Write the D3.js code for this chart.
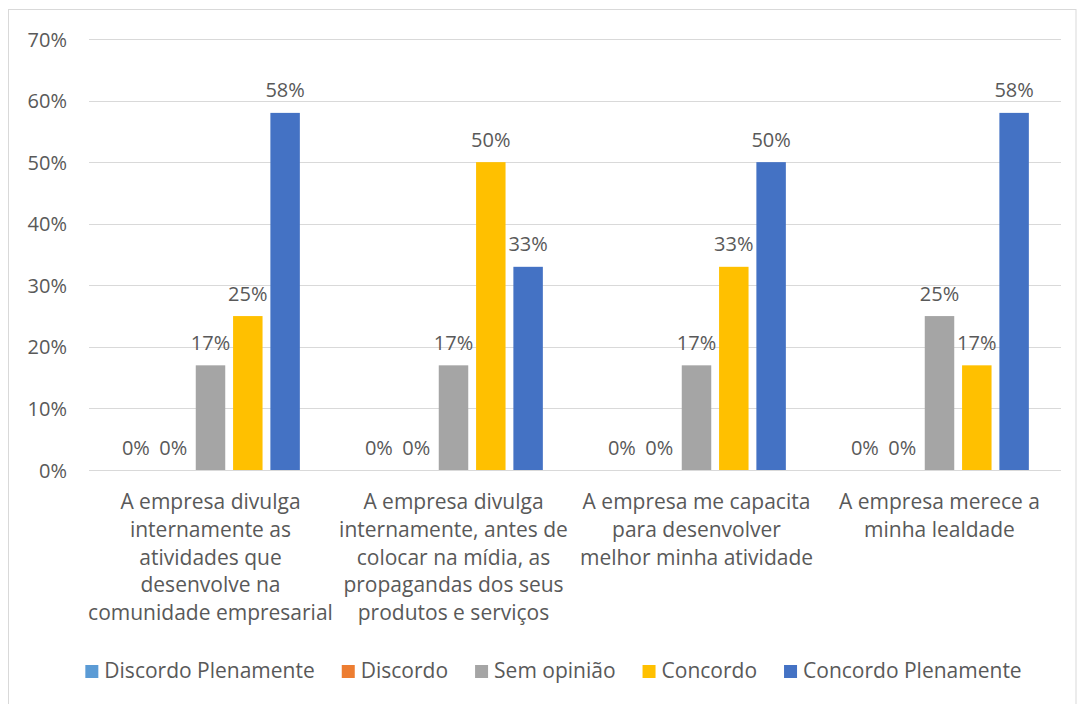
<!DOCTYPE html>
<html>
<head>
<meta charset="utf-8">
<script src="https://cdn.jsdelivr.net/npm/d3@7"></script>
<style>
  html, body { margin: 0; padding: 0; background: #fff; }
  svg { display: block; }
  text { font-family: "Open Sans", sans-serif; fill: #595959; }
</style>
</head>
<body>
<svg id="chart" width="1077" height="704"></svg>
<script>
// Survey answers per statement (percent of respondents)
const categories = [
  ["A empresa divulga", "internamente as", "atividades que", "desenvolve na", "comunidade empresarial"],
  ["A empresa divulga", "internamente, antes de", "colocar na mídia, as", "propagandas dos seus", "produtos e serviços"],
  ["A empresa me capacita", "para desenvolver", "melhor minha atividade"],
  ["A empresa merece a", "minha lealdade"]
];
const seriesNames = ["Discordo Plenamente", "Discordo", "Sem opinião", "Concordo", "Concordo Plenamente"];
const seriesColors = ["#5B9BD5", "#ED7D31", "#A5A5A5", "#FFC000", "#4472C4"];
const discordoPlenamente = [0, 0, 0, 0];
const discordo = [0, 0, 0, 0];
const semOpiniao = [17, 17, 17, 25];
const concordo = [25, 50, 33, 17];
const concordoPlenamente = [58, 33, 50, 58];
const seriesValues = [discordoPlenamente, discordo, semOpiniao, concordo, concordoPlenamente];
const yTicks = [0, 10, 20, 30, 40, 50, 60, 70];

const svg = d3.select("#chart");
const FS = 20;      // tick and value labels
const FS_CAT = 21;  // category and legend labels

// Chart frame
svg.append("rect")
  .attr("x", 8.5).attr("y", 9.5)
  .attr("width", 1067.5).attr("height", 700)
  .attr("fill", "none").attr("stroke", "#d9d9d9").attr("stroke-width", 1);

const plot = { left: 89, right: 1061, top: 39, bottom: 470 };

const y = d3.scaleLinear().domain([0, 70]).range([plot.bottom, plot.top]);
const catIdx = d3.range(categories.length);
const x0 = d3.scaleBand().domain(catIdx).range([plot.left, plot.right])
  .paddingInner(0.2646).paddingOuter(0.1323);
const x1 = d3.scaleBand().domain(d3.range(seriesNames.length))
  .range([0, x0.bandwidth()]).paddingInner(0.21).paddingOuter(0);

// Gridlines
svg.append("g").selectAll("line").data(yTicks).join("line")
  .attr("x1", plot.left).attr("x2", plot.right)
  .attr("y1", d => Math.round(y(d)) + 0.5).attr("y2", d => Math.round(y(d)) + 0.5)
  .attr("stroke", "#d9d9d9").attr("stroke-width", 1);

// Y axis labels
const yAxis = d3.axisLeft(y).tickValues(yTicks).tickFormat(d => d + "%").tickSize(0).tickPadding(0);
const ya = svg.append("g").attr("transform", `translate(67,0)`).call(yAxis);
ya.select(".domain").remove();
ya.selectAll("text").attr("font-size", FS).attr("font-family", "Open Sans, sans-serif").attr("fill", "#595959").attr("dy", "0.35em");

// Bars
const groups = svg.append("g").selectAll("g").data(catIdx).join("g")
  .attr("transform", c => `translate(${x0(c)},0)`);

groups.selectAll("rect").data(c => seriesValues.map((vals, s) => ({ s, v: vals[c] })))
  .join("rect")
  .attr("x", d => x1(d.s)).attr("width", x1.bandwidth())
  .attr("y", d => y(d.v)).attr("height", d => y(0) - y(d.v))
  .attr("fill", d => seriesColors[d.s]);

// Value labels
groups.selectAll("text").data(c => seriesValues.map((vals, s) => ({ s, v: vals[c] })))
  .join("text")
  .attr("x", d => x1(d.s) + x1.bandwidth() / 2)
  .attr("y", d => y(d.v) - 15.5)
  .attr("text-anchor", "middle").attr("font-size", FS)
  .text(d => d.v + "%");

// Category labels
const cl = svg.append("g").selectAll("text").data(catIdx).join("text")
  .attr("text-anchor", "middle").attr("font-size", FS_CAT)
  .attr("x", c => x0(c) + x0.bandwidth() / 2).attr("y", 509);
cl.selectAll("tspan").data(c => categories[c]).join("tspan")
  .attr("x", function () { return this.parentNode.getAttribute("x"); })
  .attr("dy", (d, i) => i === 0 ? 0 : 27.8)
  .text(d => d);

// Legend
const legend = svg.append("g");
const items = legend.selectAll("g").data(seriesNames).join("g");
items.append("rect").attr("width", 13).attr("height", 13).attr("y", -13)
  .attr("fill", (d, i) => seriesColors[i]);
items.append("text").attr("x", 19).attr("y", 0).attr("font-size", FS_CAT).text(d => d);
let xpos = 0;
items.each(function () {
  const w = 19 + d3.select(this).select("text").node().getComputedTextLength();
  d3.select(this).attr("transform", `translate(${xpos},0)`);
  xpos += w + 27;
});
const total = xpos - 27;
legend.attr("transform", `translate(${553.5 - total / 2},678)`);
</script>
</body>
</html>
